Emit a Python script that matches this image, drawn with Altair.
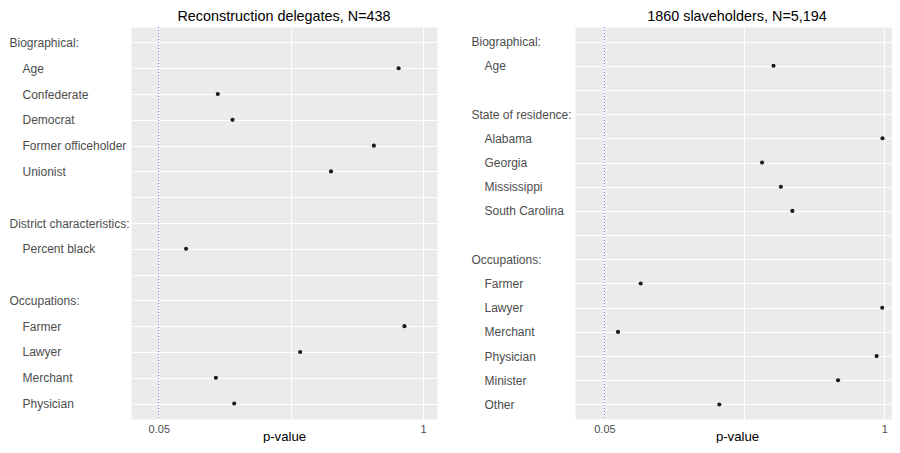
import altair as alt
import pandas as pd

FONT = "Liberation Sans"

left_title = "Reconstruction delegates, N=438"
left_labels = ["Biographical:", "Age", "Confederate", "Democrat", "Former officeholder",
               "Unionist", "", "District characteristics:", "Percent black", "",
               "Occupations:", "Farmer", "Lawyer", "Merchant", "Physician"]
left_pvalues = [None, 0.912, 0.262, 0.315, 0.823, 0.669, None, None, 0.148, None,
                None, 0.933, 0.558, 0.255, 0.321]

right_title = "1860 slaveholders, N=5,194"
right_labels = ["Biographical:", "Age", "", "State of residence:", "Alabama", "Georgia",
                "Mississippi", "South Carolina", "", "Occupations:", "Farmer", "Lawyer",
                "Merchant", "Physician", "Minister", "Other"]
right_pvalues = [None, 0.624, None, None, 0.994, 0.585, 0.649, 0.688, None, None,
                 0.173, 0.993, 0.096, 0.974, 0.843, 0.440]

threshold = [0.05]
x_ticks = [0.05, 0.525, 1]


def make_keys(labels):
    keys = []
    for i, lab in enumerate(labels):
        if lab == "":
            keys.append("\u2002" * (i + 1))
        else:
            keys.append(lab)
    return keys


def panel(title, labels, pvalues, width, label_pad):
    keys = make_keys(labels)
    df = pd.DataFrame({"key": keys, "p": pvalues})
    pts = df.dropna().reset_index(drop=True)

    xscale = alt.Scale(domain=[-0.05, 1.05], nice=False, zero=False)
    yscale = alt.Scale(type="point", domain=keys, padding=0.6)

    points = alt.Chart(pts).mark_point(filled=True, size=17, color="#1A1A1A", opacity=1).encode(
        x=alt.X("p:Q", scale=xscale,
                axis=alt.Axis(title="p-value", values=x_ticks,
                              labelExpr="datum.value == 0.05 ? '0.05' : (datum.value == 1 ? '1' : '')",
                              ticks=False, domain=False, labelFont=FONT, labelFontSize=11,
                              labelColor="#4D4D4D", labelPadding=4, grid=True,
                              gridColor="white", gridWidth=1,
                              titleFont=FONT, titleFontSize=13.2, titleFontWeight="normal",
                              titleColor="black", titlePadding=-4)),
        y=alt.Y("key:N", scale=yscale, sort=keys,
                axis=alt.Axis(title=None, labelAlign="left",
                              labelPadding={"condition": {"test": "indexof(datum.value, ':') >= 0",
                                                          "value": label_pad},
                                            "value": label_pad - 13},
                              ticks=False, tickSize=0, domain=False, labelFont=FONT,
                              labelFontSize=12, labelColor="#4D4D4D", grid=True,
                              gridColor="white", gridWidth=1.2, labelLimit=300)),
    )

    vline = alt.Chart(pd.DataFrame({"p": threshold})).mark_rule(
        color="#3c3cff", strokeWidth=1, strokeDash=[1, 2], opacity=0.7
    ).encode(x=alt.X("p:Q", scale=xscale))

    return alt.layer(vline, points).properties(
        width=width, height=392,
        title=alt.TitleParams(title, font=FONT, fontSize=14.4, fontWeight="normal",
                              color="black", anchor="middle", offset=2),
    )


left = panel(left_title, left_labels, left_pvalues, 306, 122)
right = panel(right_title, right_labels, right_pvalues, 324, 104)

chart = alt.hconcat(left, right, spacing=32).properties(
    padding={"left": 0, "top": 0, "right": -8, "bottom": 0},
    background="white",
).configure_view(fill="#EBEBEB", stroke="transparent")

chart.save("out.html", embed_options={"renderer": "svg", "actions": False})
